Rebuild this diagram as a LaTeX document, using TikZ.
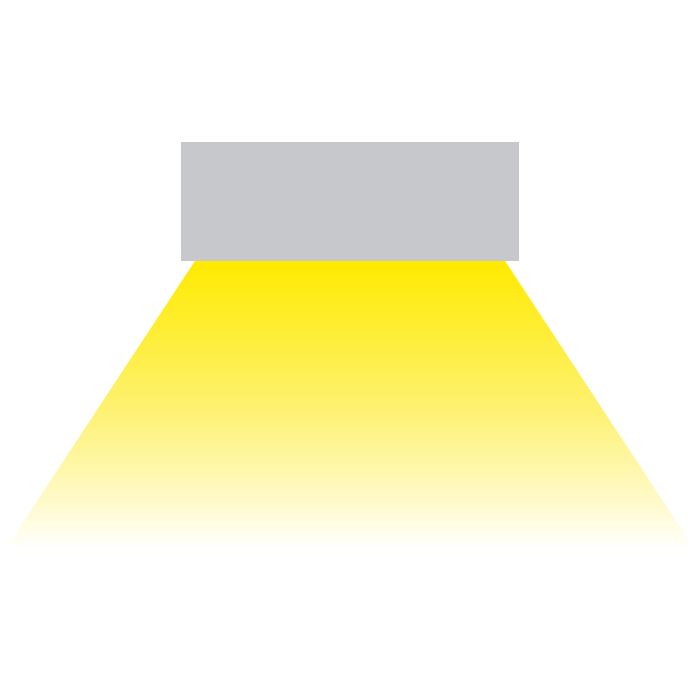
\documentclass[tikz,border=0pt]{standalone}
\definecolor{housing}{RGB}{199,200,203}
\definecolor{beamtop}{RGB}{255,234,0}
\definecolor{beammid}{RGB}{254,241,110}
\definecolor{beamlow}{RGB}{255,250,205}
\pgfdeclareverticalshading{beamfade}{100bp}{color(0bp)=(white); color(25bp)=(white); color(33bp)=(beamlow); color(50bp)=(beammid); color(75bp)=(beamtop); color(100bp)=(beamtop)}

\begin{document}
\begin{tikzpicture}[x=0.01cm,y=-0.01cm]
	\useasboundingbox (0,0) rectangle (700,700);
	% light beam
	\shade[shading=beamfade] (195,261) -- (505,261) -- (695,550) -- (5,550) -- cycle;
	% lamp housing
	\fill[housing] (181,142) rectangle (519,261);
\end{tikzpicture}
\end{document}
